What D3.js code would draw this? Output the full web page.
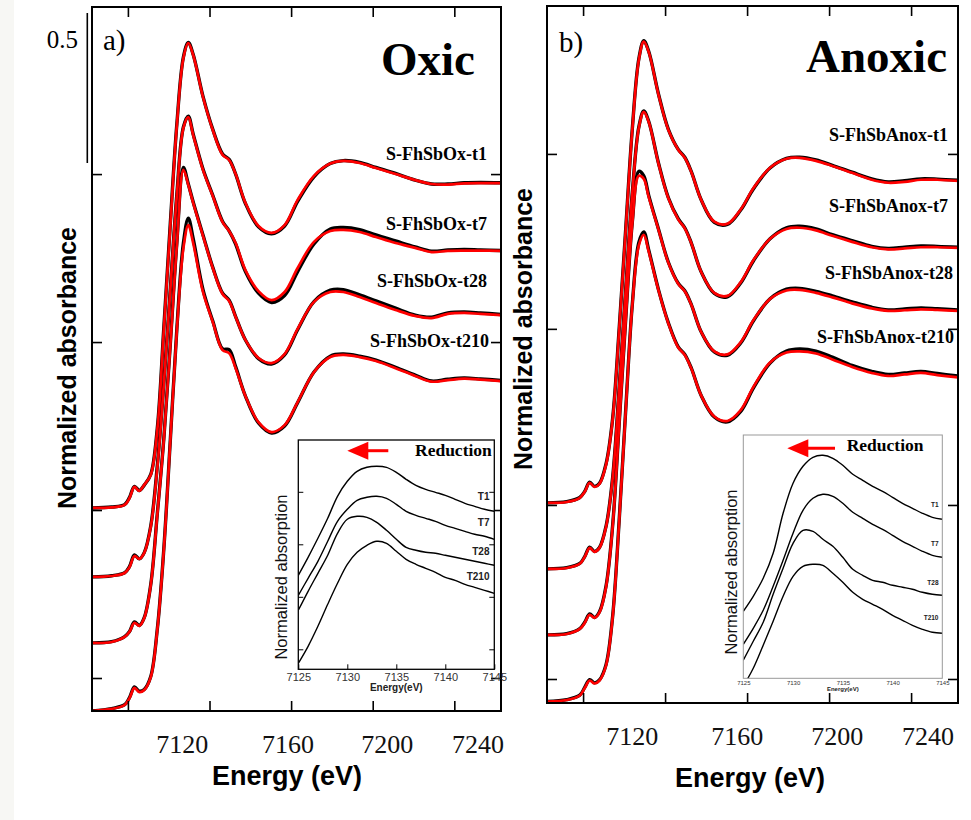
<!DOCTYPE html>
<html><head><meta charset="utf-8">
<script src="https://cdn.jsdelivr.net/npm/d3@7"></script>
<style>body{margin:0;background:#fff}</style>
</head><body><svg id="c" width="971" height="820"></svg>
<script>
// ---------- DATA ----------
const energy = [7099,7105,7109,7110.5,7112,7113.5,7115,7117,7119,7121,7123,7125,7127,7128.5,7130,7133,7136,7139,7141,7143,7146,7150,7154,7158,7162,7167,7172,7176,7181,7186,7192,7198,7203,7208,7213,7218,7224.3];
const sampleTimes = ["t1","t7","t28","t210"];
const oxicNames = ["S-FhSbOx-t1","S-FhSbOx-t7","S-FhSbOx-t28","S-FhSbOx-t210"];
const anoxNames = ["S-FhSbAnox-t1","S-FhSbAnox-t7","S-FhSbAnox-t28","S-FhSbAnox-t210"];
const oxicOffsets = [0.677,0.447,0.227,0];
const anoxOffsets = [0.667,0.447,0.227,0.005];

// Oxic fits (red)
const oxT1Fit  = [0,0.002,0.01,0.033,0.07,0.057,0.077,0.11,0.26,0.593,0.943,1.277,1.5,1.55,1.51,1.37,1.26,1.177,1.16,1.113,1.017,0.94,0.917,0.943,1.027,1.107,1.148,1.157,1.15,1.133,1.113,1.093,1.08,1.078,1.082,1.083,1.083];
const oxT7Fit  = [0,0.003,0.013,0.033,0.07,0.06,0.08,0.167,0.363,0.64,0.957,1.273,1.497,1.533,1.473,1.357,1.27,1.183,1.153,1.113,1.023,0.953,0.923,0.95,1.03,1.117,1.153,1.157,1.15,1.133,1.113,1.097,1.083,1.087,1.088,1.088,1.087];
const oxT28Fit = [0,0.003,0.02,0.037,0.067,0.057,0.083,0.193,0.427,0.677,0.993,1.327,1.577,1.527,1.467,1.357,1.25,1.163,1.14,1.087,1.01,0.95,0.933,0.963,1.047,1.137,1.17,1.17,1.153,1.133,1.11,1.09,1.083,1.097,1.1,1.097,1.093];
const oxT210Fit= [0,0.007,0.02,0.043,0.077,0.063,0.07,0.113,0.27,0.537,0.903,1.27,1.543,1.62,1.56,1.397,1.297,1.203,1.193,1.143,1.05,0.963,0.93,0.953,1.03,1.13,1.18,1.187,1.18,1.167,1.143,1.117,1.098,1.103,1.108,1.105,1.1];
// Oxic data (black)
const oxT1Data  = [0,0.003,0.011,0.035,0.072,0.058,0.076,0.112,0.265,0.6,0.95,1.28,1.503,1.552,1.512,1.372,1.262,1.18,1.162,1.113,1.015,0.937,0.914,0.94,1.022,1.104,1.148,1.158,1.152,1.135,1.115,1.093,1.08,1.08,1.084,1.085,1.084];
const oxT7Data  = [0,0.004,0.014,0.035,0.073,0.06,0.081,0.17,0.37,0.645,0.96,1.276,1.5,1.536,1.476,1.36,1.272,1.185,1.154,1.11,1.018,0.946,0.915,0.938,1.018,1.11,1.16,1.165,1.158,1.14,1.12,1.1,1.086,1.09,1.092,1.09,1.088];
const oxT28Data = [0,0.004,0.021,0.038,0.07,0.058,0.084,0.195,0.43,0.68,0.998,1.335,1.585,1.53,1.47,1.36,1.252,1.166,1.143,1.088,1.01,0.948,0.93,0.96,1.044,1.138,1.176,1.178,1.16,1.14,1.116,1.093,1.086,1.1,1.103,1.1,1.095];
const oxT210Data= [0,0.008,0.021,0.045,0.08,0.066,0.072,0.115,0.272,0.54,0.905,1.275,1.56,1.643,1.575,1.405,1.3,1.207,1.205,1.148,1.05,0.96,0.927,0.95,1.028,1.13,1.183,1.19,1.183,1.17,1.146,1.12,1.1,1.106,1.11,1.107,1.102];

// Anoxic fits (red)
const anT1Fit  = [0,0.003,0.017,0.037,0.067,0.053,0.063,0.127,0.277,0.577,0.91,1.243,1.477,1.537,1.503,1.36,1.243,1.177,1.15,1.103,1.01,0.937,0.93,0.977,1.05,1.117,1.147,1.15,1.14,1.123,1.1,1.077,1.067,1.07,1.077,1.077,1.073];
const anT7Fit  = [0,0.003,0.017,0.04,0.07,0.057,0.07,0.14,0.3,0.6,0.93,1.25,1.47,1.523,1.49,1.35,1.235,1.165,1.135,1.085,0.99,0.92,0.91,0.955,1.03,1.1,1.133,1.137,1.128,1.11,1.09,1.072,1.065,1.068,1.072,1.072,1.07];
const anT28Fit = [0,0.003,0.02,0.04,0.067,0.057,0.075,0.16,0.36,0.7,1.05,1.37,1.53,1.52,1.46,1.35,1.24,1.17,1.145,1.1,1.01,0.945,0.935,0.975,1.05,1.12,1.148,1.15,1.14,1.125,1.105,1.088,1.08,1.082,1.085,1.083,1.08];
const anT210Fit= [0,0.005,0.02,0.045,0.07,0.06,0.07,0.12,0.28,0.6,0.97,1.32,1.52,1.555,1.5,1.37,1.26,1.18,1.155,1.11,1.02,0.95,0.935,0.97,1.05,1.13,1.163,1.167,1.16,1.14,1.115,1.095,1.085,1.09,1.095,1.088,1.08];
// Anoxic data (black)
const anT1Data  = [0,0.004,0.018,0.038,0.069,0.055,0.065,0.13,0.28,0.58,0.913,1.246,1.48,1.54,1.505,1.362,1.245,1.178,1.152,1.104,1.01,0.935,0.928,0.975,1.048,1.116,1.148,1.152,1.143,1.125,1.102,1.08,1.07,1.074,1.08,1.079,1.075];
const anT7Data  = [0,0.004,0.018,0.041,0.072,0.058,0.071,0.142,0.303,0.603,0.933,1.253,1.473,1.526,1.492,1.352,1.237,1.167,1.137,1.086,0.99,0.918,0.907,0.952,1.028,1.1,1.137,1.142,1.133,1.114,1.094,1.075,1.068,1.072,1.076,1.075,1.072];
const anT28Data = [0,0.004,0.021,0.042,0.07,0.058,0.077,0.163,0.363,0.703,1.053,1.375,1.545,1.53,1.465,1.352,1.242,1.172,1.147,1.101,1.01,0.943,0.932,0.972,1.048,1.12,1.152,1.155,1.145,1.13,1.11,1.092,1.083,1.086,1.09,1.087,1.083];
const anT210Data= [0,0.006,0.021,0.047,0.073,0.062,0.072,0.123,0.283,0.603,0.973,1.323,1.53,1.565,1.505,1.372,1.262,1.182,1.157,1.111,1.02,0.948,0.932,0.966,1.046,1.128,1.168,1.175,1.168,1.148,1.12,1.1,1.09,1.095,1.1,1.093,1.085];

// Insets
const insetEnergy = [7125,7126,7127,7128,7129,7130,7131,7132,7133,7134,7135,7136,7137,7138,7139,7140,7141,7142,7143,7144,7145];
const insetLabels = ["T1","T7","T28","T210"];
const oxInT1   = [0.94,1.12,1.31,1.51,1.73,1.88,1.98,2.02,2.03,2.02,1.97,1.90,1.84,1.80,1.77,1.74,1.70,1.66,1.63,1.60,1.58];
const oxInT7   = [0.74,0.91,1.08,1.28,1.48,1.60,1.69,1.72,1.73,1.71,1.65,1.58,1.54,1.51,1.48,1.44,1.41,1.38,1.35,1.33,1.30];
const oxInT28  = [0.59,0.78,0.96,1.14,1.36,1.50,1.53,1.52,1.47,1.39,1.30,1.22,1.19,1.17,1.16,1.14,1.12,1.10,1.08,1.06,1.04];
const oxInT210 = [0.06,0.23,0.43,0.65,0.86,1.05,1.17,1.24,1.28,1.26,1.18,1.10,1.05,1.01,0.97,0.92,0.89,0.85,0.82,0.79,0.76];
const anInT1   = [0.67,0.82,1.00,1.25,1.65,1.95,2.12,2.21,2.23,2.20,2.13,2.04,1.98,1.92,1.87,1.81,1.75,1.70,1.65,1.61,1.59];
const anInT7   = [0.34,0.50,0.68,0.92,1.18,1.45,1.68,1.80,1.84,1.82,1.75,1.66,1.60,1.54,1.49,1.43,1.37,1.32,1.27,1.23,1.21];
const anInT28  = [0.18,0.37,0.56,0.84,1.10,1.35,1.48,1.47,1.39,1.32,1.21,1.09,1.03,0.98,0.96,0.93,0.91,0.89,0.86,0.84,0.83];
const anInT210 = [-0.08,0.10,0.33,0.57,0.82,1.02,1.12,1.14,1.13,1.05,0.96,0.86,0.79,0.74,0.69,0.63,0.58,0.53,0.49,0.46,0.45];

const xTicks = [7110,7135,7160,7185,7210];
const xTickLabels = [7120,7160,7200,7240];
const oxYTicks = [0.11,0.67,1.23,1.79];
const anYTicks = [0.08,0.66,1.247,1.83];
const insetXTicks = [7125,7130,7135,7140,7145];
const oxInYTicks = [0.2,0.725,1.25,1.775];
const scaleBar = {from:1.827, len:0.5, label:"0.5"};

// ---------- DRAW ----------
const svg = d3.select("#c");
svg.append("rect").attr("x",0).attr("y",0).attr("width",971).attr("height",820).attr("fill","#fff");
svg.append("rect").attr("x",0).attr("y",0).attr("width",14).attr("height",820).attr("fill","#f7f7f4");
const SERIF = "'Liberation Serif','Times New Roman',serif";
const SANS = "'Liberation Sans',Arial,sans-serif";

function panel(o){
  const g = svg.append("g");
  const x = d3.scaleLinear().domain([7099,7224.3]).range([o.x0,o.x1]);
  const y = d3.scaleLinear().domain([0,o.ymax]).range([o.y1,o.y0]);
  const clipId = "clip"+o.id;
  svg.append("clipPath").attr("id",clipId).append("rect")
    .attr("x",o.x0).attr("y",o.y0).attr("width",o.x1-o.x0).attr("height",o.y1-o.y0);
  const cg = g.append("g").attr("clip-path",`url(#${clipId})`);
  o.series.forEach((s,i)=>{
    const line = d3.line().x((d,j)=>x(energy[j])).y(d=>y(d+o.offsets[i])).curve(d3.curveCatmullRom.alpha(0.5));
    cg.append("path").attr("d",line(s.data)).attr("fill","none").attr("stroke","#000").attr("stroke-width",3.4).attr("stroke-linejoin","round");
  });
  o.series.forEach((s,i)=>{
    const line = d3.line().x((d,j)=>x(energy[j])).y(d=>y(d+o.offsets[i])).curve(d3.curveCatmullRom.alpha(0.5));
    cg.append("path").attr("d",line(s.fit)).attr("fill","none").attr("stroke","#ff0000").attr("stroke-width",2.7).attr("stroke-linejoin","round");
  });
  const ax = (gen, tr) => g.append("g").attr("transform",tr).call(gen)
     .call(a=>{a.select(".domain").remove(); a.selectAll("line").attr("stroke","#000").attr("stroke-width",1.6); a.selectAll("text").remove();});
  ax(d3.axisBottom(x).tickValues(xTicks).tickSize(-10).tickSizeOuter(0), `translate(0,${o.y1})`);
  ax(d3.axisTop(x).tickValues(xTicks).tickSize(-10).tickSizeOuter(0), `translate(0,${o.y0})`);
  ax(d3.axisLeft(y).tickValues(o.yTicks).tickSize(-10).tickSizeOuter(0), `translate(${o.x0},0)`);
  ax(d3.axisRight(y).tickValues(o.yTicks).tickSize(-10).tickSizeOuter(0), `translate(${o.x1},0)`);
  const lx = d3.scaleLinear().domain(xTickLabels).range(o.labelPos);
  g.append("g").attr("transform",`translate(0,${o.labelY})`)
    .call(d3.axisBottom(lx).tickValues(xTickLabels).tickSize(0).tickFormat(d3.format("d")))
    .call(a=>{a.select(".domain").remove(); a.selectAll("text").attr("font-family",SERIF).attr("font-size",26).attr("fill","#111").attr("dy",0).attr("y",0);});
  g.append("text").attr("x",o.xTitleX).attr("y",o.xTitleY).attr("text-anchor","middle")
    .attr("font-family",SANS).attr("font-weight","bold").attr("font-size",27).text("Energy (eV)");
  g.append("text").attr("transform",`translate(${o.yTitleX},${o.yTitleY}) rotate(-90)`).attr("text-anchor","middle")
    .attr("font-family",SANS).attr("font-weight","bold").attr("font-size",25).text("Normalized absorbance");
  g.append("rect").attr("x",o.x0).attr("y",o.y0).attr("width",o.x1-o.x0).attr("height",o.y1-o.y0)
    .attr("fill","none").attr("stroke","#000").attr("stroke-width",2);
  g.append("text").attr("x",o.letterX).attr("y",o.letterY).attr("font-family",SERIF).attr("font-size",29).text(o.letter);
  g.append("text").attr("x",o.titleX).attr("y",o.titleY).attr("font-family",SERIF).attr("font-weight","bold").attr("font-size",47).text(o.title);
  o.names.forEach((n,i)=>{
    g.append("text").attr("x",o.nameX[i]).attr("y",o.nameY[i]).attr("text-anchor","end")
      .attr("font-family",SERIF).attr("font-weight","bold").attr("font-size",18).text(n);
  });
  return {x,y,g};
}

function inset(o){
  const g = svg.append("g");
  const x = d3.scaleLinear().domain([7125,7145]).range([o.x0,o.x1]);
  const y = d3.scaleLinear().domain([0,(o.y1-o.y0)/100]).range([o.y1,o.y0]);
  g.append("rect").attr("x",o.x0).attr("y",o.y0).attr("width",o.x1-o.x0).attr("height",o.y1-o.y0).attr("fill","#fff");
  const clipId="iclip"+o.id;
  svg.append("clipPath").attr("id",clipId).append("rect").attr("x",o.x0).attr("y",o.y0).attr("width",o.x1-o.x0).attr("height",o.y1-o.y0);
  const line = d3.line().x((d,j)=>x(insetEnergy[j])).y(d=>y(d)).curve(d3.curveCatmullRom.alpha(0.5));
  const cg = g.append("g").attr("clip-path",`url(#${clipId})`);
  o.series.forEach(s=>cg.append("path").attr("d",line(s)).attr("fill","none").attr("stroke","#000").attr("stroke-width",1.4));
  const bx = g.append("g").attr("transform",`translate(0,${o.y1})`)
    .call(d3.axisBottom(x).tickValues(insetXTicks).tickSize(o.tick? -5:0).tickSizeOuter(0).tickPadding(o.tickPad).tickFormat(d3.format("d")));
  bx.select(".domain").remove();
  bx.selectAll("line").attr("stroke","#000");
  bx.selectAll("text").attr("font-family",SANS).attr("font-size",o.tickFont).attr("fill","#333");
  if(o.tick){
    [[d3.axisLeft,o.x0],[d3.axisRight,o.x1]].forEach(([A,px])=>{
      const a = g.append("g").attr("transform",`translate(${px},0)`).call(A(y).tickValues(o.yTicks).tickSize(-5).tickSizeOuter(0).tickFormat(""));
      a.select(".domain").remove(); a.selectAll("line").attr("stroke","#000");
    });
  }
  g.append("rect").attr("x",o.x0).attr("y",o.y0).attr("width",o.x1-o.x0).attr("height",o.y1-o.y0)
    .attr("fill","none").attr("stroke",o.frame).attr("stroke-width",o.frameW);
  g.append("text").attr("x",(o.x0+o.x1)/2).attr("y",o.eY).attr("text-anchor","middle").attr("font-family",SANS)
    .attr("font-weight","bold").attr("font-size",o.eFont).attr("fill","#222").text("Energy(eV)");
  g.append("text").attr("transform",`translate(${o.yLabX},${o.yLabY}) rotate(-90)`).attr("text-anchor","middle")
    .attr("font-family",SANS).attr("font-size",16.5).attr("fill","#111").text("Normalized absorption");
  insetLabels.forEach((t,i)=>g.append("text").attr("x",o.tX).attr("y",o.tY[i]).attr("text-anchor","end")
    .attr("font-family",SANS).attr("font-weight","bold").attr("font-size",o.tFont).attr("fill","#222").text(t));
  g.append("line").attr("x1",o.arrow[0]).attr("x2",o.arrow[1]+10).attr("y1",o.arrow[2]).attr("y2",o.arrow[2]).attr("stroke","#ff0000").attr("stroke-width",3);
  g.append("path").attr("d",`M${o.arrow[1]},${o.arrow[2]} L${o.arrow[1]+21},${o.arrow[2]-9} L${o.arrow[1]+21},${o.arrow[2]+9} Z`).attr("fill","#ff0000");
  g.append("text").attr("x",o.redX).attr("y",o.redY).attr("font-family",SERIF).attr("font-weight","bold").attr("font-size",17.5).text("Reduction");
}

const left = panel({id:"a", x0:92, x1:501, y0:7, y1:711, ymax:2.347, offsets:oxicOffsets, yTicks:oxYTicks,
  series:[{fit:oxT1Fit,data:oxT1Data},{fit:oxT7Fit,data:oxT7Data},{fit:oxT28Fit,data:oxT28Data},{fit:oxT210Fit,data:oxT210Data}],
  labelPos:[181.7,287.5,386.7,477.5], labelY:753, xTitleX:287, xTitleY:785, yTitleX:76, yTitleY:368,
  letter:"a)", letterX:103, letterY:50, title:"Oxic", titleX:381, titleY:75,
  names:oxicNames, nameX:[487,487,487,489], nameY:[159.5,229.5,287,347]});
const right = panel({id:"b", x0:547, x1:958, y0:6, y1:703, ymax:2.323, offsets:anoxOffsets, yTicks:anYTicks,
  series:[{fit:anT1Fit,data:anT1Data},{fit:anT7Fit,data:anT7Data},{fit:anT28Fit,data:anT28Data},{fit:anT210Fit,data:anT210Data}],
  labelPos:[631.7,736.7,836.7,927.5], labelY:745, xTitleX:750, xTitleY:787, yTitleX:532, yTitleY:329,
  letter:"b)", letterX:559, letterY:52, title:"Anoxic", titleX:806, titleY:72,
  names:anoxNames, nameX:[948,948,953,954], nameY:[141,212,278.5,343]});

svg.append("line").attr("x1",87.3).attr("x2",87.3).attr("y1",left.y(scaleBar.from)).attr("y2",left.y(scaleBar.from+scaleBar.len))
  .attr("stroke","#000").attr("stroke-width",1.6);
svg.append("text").attr("x",78).attr("y",48).attr("text-anchor","end").attr("font-family",SERIF).attr("font-size",25).text(scaleBar.label);

inset({id:"l", x0:298.3, x1:494.3, y0:440, y1:669.3, series:[oxInT1,oxInT7,oxInT28,oxInT210], yTicks:oxInYTicks, tick:true,
  tickPad:4, tickFont:11, frame:"#000", frameW:1.3, eY:691, eFont:10, yLabX:287, yLabY:577,
  tX:489.5, tY:[499.5,526,555,579.5], tFont:10, arrow:[388.3,347.3,450.7], redX:415, redY:456});
inset({id:"r", x0:743.3, x1:942.3, y0:435, y1:678.3, series:[anInT1,anInT7,anInT28,anInT210], yTicks:[], tick:false,
  tickPad:2, tickFont:6, frame:"#999", frameW:1, eY:691, eFont:6, yLabX:737, yLabY:572,
  tX:938.5, tY:[507,546,585,620], tFont:6.5, arrow:[835,787.3,448.3], redX:846.7, redY:451});
</script></body></html>
